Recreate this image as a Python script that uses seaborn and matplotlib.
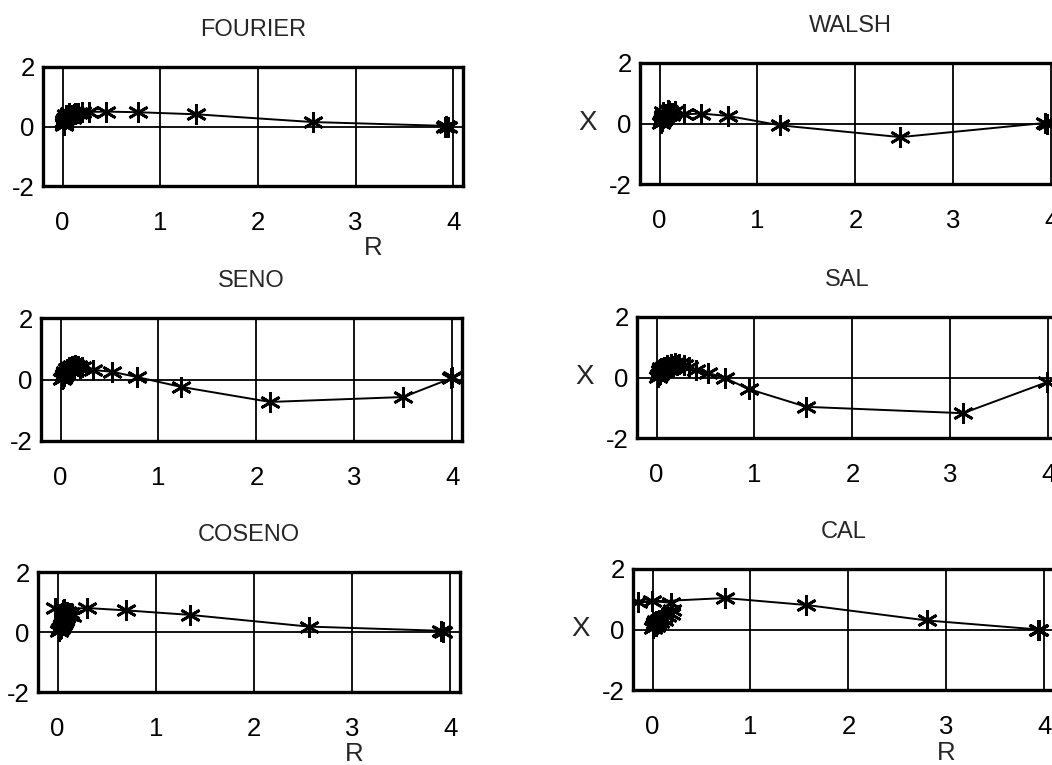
import matplotlib
matplotlib.use("Agg")
import matplotlib.pyplot as plt
import seaborn as sns
import pandas as pd

# ---- data ----
titles = ["FOURIER", "WALSH", "SENO", "SAL", "COSENO", "CAL"]

R_fourier = [0.01, 0.02, 0.02, 0.03, 0.04, 0.05, 0.04, 0.06, 0.07, 0.09, 0.10, 0.12, 0.13, 0.16, 0.20, 0.27, 0.45, 0.77, 1.37, 2.56, 3.93, 3.95, 3.92]
X_fourier = [0.05, 0.12, 0.20, 0.25, 0.30, 0.35, 0.40, 0.30, 0.45, 0.38, 0.30, 0.42, 0.44, 0.47, 0.48, 0.49, 0.50, 0.48, 0.41, 0.15, 0.02, -0.02, 0.00]

R_walsh = [0.01, 0.02, 0.03, 0.04, 0.05, 0.04, 0.06, 0.07, 0.09, 0.10, 0.12, 0.13, 0.16, 0.25, 0.42, 0.70, 1.23, 2.46, 3.94, 3.96]
X_walsh = [0.03, 0.08, 0.18, 0.25, 0.28, 0.38, 0.20, 0.30, 0.45, 0.40, 0.28, 0.35, 0.42, 0.30, 0.33, 0.25, -0.06, -0.45, 0.02, -0.03]

R_seno = [0.01, 0.02, 0.03, 0.04, 0.05, 0.06, 0.07, 0.09, 0.10, 0.12, 0.14, 0.15, 0.18, 0.20, 0.22, 0.33, 0.53, 0.78, 1.23, 2.14, 3.50, 3.99, 4.00]
X_seno = [0.02, 0.05, 0.15, 0.10, 0.25, 0.20, 0.35, 0.42, 0.30, 0.45, 0.35, 0.48, 0.45, 0.38, 0.40, 0.31, 0.25, 0.08, -0.24, -0.73, -0.57, 0.04, 0.08]

R_sal = [0.01, 0.02, 0.03, 0.04, 0.05, 0.07, 0.08, 0.10, 0.11, 0.13, 0.15, 0.17, 0.19, 0.21, 0.23, 0.28, 0.33, 0.40, 0.53, 0.70, 0.94, 1.53, 3.13, 3.99]
X_sal = [0.03, 0.08, 0.20, 0.12, 0.30, 0.22, 0.36, 0.28, 0.42, 0.35, 0.46, 0.38, 0.48, 0.40, 0.44, 0.40, 0.35, 0.25, 0.15, -0.02, -0.38, -0.97, -1.18, -0.15]

R_coseno = [0.01, 0.02, 0.03, 0.04, 0.05, 0.06, 0.08, 0.09, 0.12, 0.15, 0.13, 0.10, 0.05, -0.03, 0.06, 0.30, 0.70, 1.35, 2.56, 3.91, 3.93]
X_coseno = [0.05, 0.10, 0.15, 0.22, 0.28, 0.35, 0.40, 0.50, 0.58, 0.52, 0.62, 0.66, 0.72, 0.80, 0.76, 0.80, 0.72, 0.57, 0.18, 0.04, 0.00]

R_cal = [0.00, 0.01, 0.02, 0.03, 0.04, 0.05, 0.07, 0.08, 0.10, 0.12, 0.15, 0.19, 0.20, 0.19, -0.01, -0.15, 0.74, 1.57, 2.80, 3.94, 3.95]
X_cal = [0.05, 0.12, 0.20, 0.10, 0.28, 0.18, 0.32, 0.25, 0.38, 0.30, 0.45, 0.50, 0.65, 0.88, 0.95, 0.90, 1.04, 0.81, 0.30, 0.00, -0.03]

xticks = [0, 1, 2, 3, 4]
yticks = [-2, 0, 2]

series = [(R_fourier, X_fourier), (R_walsh, X_walsh), (R_seno, X_seno),
          (R_sal, X_sal), (R_coseno, X_coseno), (R_cal, X_cal)]

# ---- style ----
sns.set_style("white")
plt.rcParams['font.family'] = ['Liberation Sans', 'DejaVu Sans']
plt.rcParams['axes.unicode_minus'] = False

W, H = 1052, 765
fig = plt.figure(figsize=(W / 100, H / 100), dpi=100)

# axes boxes in pixels: left, top, right, bottom
boxes = [
    (43, 67, 463, 186),
    (640, 63, 1061, 184),
    (41, 318, 462, 441),
    (637, 317, 1058, 438),
    (38, 572, 460, 692),
    (633, 569, 1054, 690),
]
# xlabel 'R' positions (axes-fraction x, or None)
rlabels = [0.786, None, None, None, 0.75, 0.745]

for i, ((l, t, r, b), (R, X)) in enumerate(zip(boxes, series)):
    ax = fig.add_axes([l / W, 1 - b / H, (r - l) / W, (b - t) / H])
    df = pd.DataFrame({"R": R, "X": X})
    sns.lineplot(data=df, x="R", y="X", ax=ax, sort=False, estimator=None,
                 color="k", lw=1.4, marker=(6, 2, 0), markersize=15,
                 markeredgecolor="k", markeredgewidth=2.0, markerfacecolor="k")
    ax.set_xlim(-0.2, 4.1)
    ax.set_ylim(-2, 2)
    ax.set_xticks(xticks)
    ax.set_yticks(yticks)
    ax.grid(True, color="k", lw=1.3)
    ax.set_axisbelow(True)
    for s in ax.spines.values():
        s.set_color("k")
        s.set_linewidth(2.4)
    ax.tick_params(axis="x", length=0, pad=18, labelsize=18.5, colors="k")
    ax.tick_params(axis="y", length=0, pad=6, labelsize=18.5, colors="k")
    ax.set_title(titles[i], fontsize=17, pad=22)
    if rlabels[i] is not None:
        ax.set_xlabel("R", fontsize=18.5, labelpad=0)
        ax.xaxis.set_label_coords(rlabels[i], -0.42)
    else:
        ax.set_xlabel("")
    if i % 2 == 1:
        ax.set_ylabel("X", fontsize=20, rotation=0, va="center", ha="center")
        ax.yaxis.set_label_coords(-0.125, 0.5)
    else:
        ax.set_ylabel("")

fig.savefig("out.png", dpi=100, facecolor="white")
